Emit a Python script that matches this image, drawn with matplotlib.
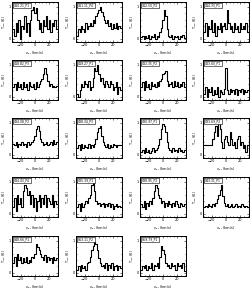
import matplotlib
matplotlib.use("Agg")
import matplotlib.pyplot as plt
import numpy as np

# source names shown in the panel boxes
names = ["G10.21_P1", "G11.11_P4", "G12.50_P2", "G14.33_P1",
         "G18.82_P3", "G19.27_P1", "G22.35_P2", "G23.60_P1",
         "G24.08_P2", "G28.34_P3", "G30.97_P1", "G33.69_P2",
         "G34.43_P4", "G35.39_P1", "G38.95_P2", "G43.31_P1",
         "G48.66_P1", "G53.11_P2", "G59.79_P1"]

# spectra (T_mb, K), 31 channels each
spectra = [
    [0.3, 0.1, 0.5, 0.2, 0.6, 0.0, 0.4, 0.3, 0.7, 0.2, 0.5, 0.1, 0.6, 0.9, 1.0, 0.8, 0.95, 0.6, 0.3, 0.5, 0.2, 0.6, 0.4, 0.7, 0.3, 0.6, 0.2, 0.5, 0.4, 0.6, 0.3],
    [0.1, 0.3, 0.2, 0.4, 0.3, 0.2, 0.5, 0.3, 0.4, 0.5, 0.4, 0.6, 0.5, 0.7, 0.8, 0.9, 1.0, 0.85, 0.7, 0.6, 0.5, 0.6, 0.4, 0.5, 0.3, 0.45, 0.35, 0.5, 0.3, 0.4, 0.35],
    [0.05, 0.1, 0.0, 0.08, 0.02, 0.12, 0.0, 0.1, 0.05, 0.15, 0.0, 0.1, 0.05, 0.2, 0.35, 0.6, 0.9, 0.7, 0.3, 0.1, 0.05, 0.12, 0.0, 0.1, 0.05, 0.08, 0.0, 0.1, 0.05, 0.12, 0.02],
    [0.2, 0.5, 0.1, 0.4, 0.3, 0.6, 0.2, 0.5, 0.1, 0.4, 0.3, 0.5, 0.2, 0.4, 0.5, 0.3, 0.9, 0.5, 0.3, 0.4, 0.2, 0.5, 0.3, 0.4, 0.2, 0.5, 0.3, 0.4, 0.3, 0.5, 0.2],
    [0.3, 0.4, 0.2, 0.45, 0.3, 0.4, 0.25, 0.45, 0.3, 0.4, 0.2, 0.45, 0.35, 0.3, 0.4, 0.25, 0.45, 0.3, 0.4, 0.5, 0.55, 0.7, 0.9, 0.7, 0.5, 0.35, 0.4, 0.3, 0.35, 0.3, 0.35],
    [0.1, 0.0, 0.2, 0.4, 0.3, 0.5, 0.4, 0.3, 0.5, 0.2, 0.3, 0.6, 0.9, 0.8, 1.0, 0.7, 0.5, 0.6, 0.4, 0.3, 0.5, 0.4, 0.3, 0.5, 0.4, 0.2, 0.3, 0.45, 0.1, 0.3, 0.2],
    [0.3, 0.45, 0.2, 0.5, 0.3, 0.4, 0.25, 0.45, 0.35, 0.4, 0.3, 0.45, 0.35, 0.5, 0.55, 0.7, 0.75, 0.8, 0.5, 0.35, 0.4, 0.45, 0.3, 0.5, 0.35, 0.45, 0.3, 0.4, 0.35, 0.45, 0.3],
    [0.1, 0.3, 0.0, 0.25, 0.15, 0.3, 0.05, 0.2, 0.1, 0.3, 0.0, 0.2, 0.15, 0.1, 0.25, 0.9, 0.2, 0.1, 0.25, 0.15, 0.2, 0.1, 0.25, 0.05, 0.2, 0.15, 0.25, 0.1, 0.2, 0.15, 0.2],
    [0.35, 0.3, 0.4, 0.25, 0.35, 0.3, 0.4, 0.3, 0.35, 0.25, 0.4, 0.3, 0.35, 0.4, 0.45, 0.6, 0.8, 0.9, 0.75, 0.5, 0.4, 0.3, 0.35, 0.4, 0.3, 0.35, 0.4, 0.3, 0.45, 0.35, 0.4],
    [0.2, 0.3, 0.15, 0.35, 0.2, 0.3, 0.25, 0.2, 0.35, 0.2, 0.3, 0.25, 0.35, 0.5, 0.7, 0.85, 0.9, 0.6, 0.4, 0.3, 0.25, 0.35, 0.2, 0.3, 0.25, 0.35, 0.3, 0.25, 0.3, 0.3, 0.3],
    [0.1, 0.15, 0.05, 0.2, 0.1, 0.15, 0.05, 0.12, 0.2, 0.1, 0.15, 0.2, 0.3, 0.5, 0.8, 0.95, 0.9, 0.7, 0.4, 0.2, 0.15, 0.1, 0.2, 0.12, 0.15, 0.1, 0.2, 0.12, 0.15, 0.1, 0.15],
    [0.3, 0.3, 0.3, 0.3, 0.3, 0.3, 0.5, 0.7, 0.9, 0.6, 1.0, 0.8, 0.4, 0.2, 0.5, 0.6, 0.4, 0.3, 0.7, 0.5, 0.3, 0.4, 0.2, 0.5, 0.6, 0.3, 0.4, 0.2, 0.3, 0.1, 0.3],
    [0.2, 0.5, 0.1, 0.6, 0.3, 0.5, 0.2, 0.7, 0.9, 0.8, 0.6, 0.7, 0.3, 0.6, 0.2, 0.5, 0.1, 0.4, 0.6, 0.2, 0.5, 0.3, 0.6, 0.2, 0.5, 0.4, 0.3, 0.6, 0.2, 0.4, 0.3],
    [0.2, 0.3, 0.1, 0.35, 0.2, 0.3, 0.4, 0.35, 0.5, 0.6, 0.9, 1.0, 0.7, 0.4, 0.3, 0.35, 0.25, 0.3, 0.35, 0.2, 0.3, 0.25, 0.35, 0.2, 0.3, 0.15, 0.25, 0.3, 0.2, 0.25, 0.2],
    [0.3, 0.2, 0.4, 0.15, 0.35, 0.25, 0.4, 0.3, 0.5, 0.7, 0.9, 0.8, 0.6, 0.5, 0.35, 0.4, 0.2, 0.35, 0.25, 0.4, 0.3, 0.2, 0.35, 0.25, 0.4, 0.3, 0.2, 0.35, 0.3, 0.25, 0.3],
    [0.2, 0.25, 0.2, 0.3, 0.25, 0.2, 0.3, 0.25, 0.35, 0.45, 0.6, 0.75, 0.9, 0.55, 0.35, 0.25, 0.3, 0.2, 0.25, 0.3, 0.2, 0.25, 0.3, 0.2, 0.25, 0.2, 0.3, 0.25, 0.2, 0.25, 0.2],
    [0.3, 0.5, 0.2, 0.6, 0.4, 0.5, 0.3, 0.45, 0.35, 0.5, 0.3, 0.4, 0.35, 0.5, 0.45, 0.6, 0.9, 0.8, 0.7, 0.6, 0.5, 0.4, 0.55, 0.35, 0.5, 0.4, 0.45, 0.3, 0.5, 0.4, 0.45],
    [0.1, 0.2, 0.05, 0.25, 0.15, 0.2, 0.1, 0.3, 0.35, 0.5, 0.7, 0.85, 0.95, 0.9, 0.7, 0.45, 0.3, 0.2, 0.25, 0.15, 0.3, 0.1, 0.25, 0.15, 0.3, 0.1, 0.2, 0.25, 0.1, 0.2, 0.15],
    [0.1, 0.2, 0.15, 0.25, 0.1, 0.2, 0.15, 0.3, 0.1, 0.25, 0.2, 0.3, 0.15, 0.5, 0.85, 0.7, 0.6, 0.3, 0.2, 0.25, 0.15, 0.3, 0.2, 0.25, 0.1, 0.3, 0.2, 0.25, 0.15, 0.3, 0.05],
]

# channel velocities (km/s)
vel = np.linspace(-30, 30, 31)

W, H = 253, 291
fig = plt.figure(figsize=(W / 100, H / 100), dpi=100)

col_left = [12, 76, 140, 203]
row_top = [2, 60, 118, 177, 236]
aw, ah = 46, 40

for i, (name, spec) in enumerate(zip(names, spectra)):
    r, c = divmod(i, 4)
    l = col_left[c] / W
    b = 1 - (row_top[r] + ah) / H
    ax = fig.add_axes([l, b, aw / W, ah / H])
    ax.plot(vel, spec, color="black", lw=0.8, drawstyle="steps-mid")
    ax.set_xlim(-32, 32)
    ax.set_ylim(-0.1, 1.15)
    ax.set_xticks([-20, 0, 20])
    ax.set_yticks([0, 1])
    ax.minorticks_on()
    ax.tick_params(which="both", direction="in", top=True, right=True,
                   labelsize=2.5, width=0.4, pad=0.8)
    ax.tick_params(which="major", length=1.5)
    ax.tick_params(which="minor", length=0.8)
    for s in ax.spines.values():
        s.set_linewidth(0.7)
    ax.set_xlabel("v$_{lsr}$ (km/s)", fontsize=2.5, labelpad=1.5)
    ax.set_ylabel("T$_{mb}$ (K)", fontsize=2.5, labelpad=0.5)
    ax.text(0.04, 0.96, name, transform=ax.transAxes, fontsize=2.2,
            va="top", ha="left",
            bbox=dict(facecolor="white", edgecolor="black", lw=0.4, pad=0.6))

fig.savefig("out.png", dpi=100)
